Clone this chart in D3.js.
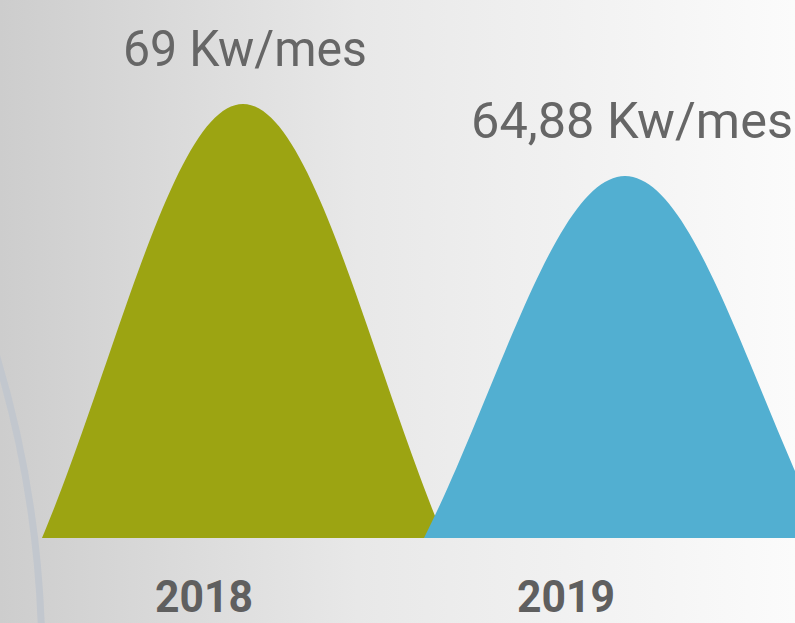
<!DOCTYPE html>
<html>
  <head>
    <meta charset="utf-8">
    <script src="https://d3js.org/d3.v7.min.js"></script>
    <style>
      body { margin: 0px; overflow: hidden; }
      .value-label {
        fill: #666666;
        font-family: Roboto, sans-serif;
        font-size: 50px;
      }
      .year-label {
        fill: #5f5f5f;
        font-family: Roboto, sans-serif;
        font-weight: 700;
        font-size: 45px;
      }
    </style>
  </head>
  <body>
    <svg width="795" height="623"></svg>
    <script>
      const years = ['2018', '2019'];
      const values = [69, 64.88];
      const valueLabels = ['69 Kw/mes', '64,88 Kw/mes'];
      const colors = ['#9ca412', '#52afd1'];

      const svg = d3.select('svg');
      const width = +svg.attr('width');
      const height = +svg.attr('height');
      const baseline = 538;
      const halfWidth = 201;

      // background gradient
      const defs = svg.append('defs');
      const grad = defs.append('linearGradient')
          .attr('id', 'bg')
          .attr('x1', '0%').attr('x2', '100%')
          .attr('y1', '0%').attr('y2', '0%');
      grad.append('stop').attr('offset', '0%').attr('stop-color', '#cdcdcd');
      grad.append('stop').attr('offset', '45%').attr('stop-color', '#e8e8e8');
      grad.append('stop').attr('offset', '100%').attr('stop-color', '#fbfbfb');
      svg.append('rect')
          .attr('width', width).attr('height', height)
          .attr('fill', 'url(#bg)');

      // faint decorative arc on the left
      svg.append('circle')
          .attr('cx', -1029).attr('cy', 665).attr('r', 1071)
          .attr('fill', 'none')
          .attr('stroke', '#c2c7ce')
          .attr('stroke-width', 7);

      const xScale = d3.scalePoint()
        .domain(years)
        .range([243, 625]);
      const yearX = d3.scalePoint()
        .domain(years)
        .range([204, 566]);
      const yScale = d3.scaleLinear()
        .domain([44.2, 69])
        .range([baseline, 104]);

      // bell shape: truncated gaussian on t in [-1, 1]
      const s = 0.68;
      const edge = Math.exp(-1 / (2 * s * s));
      const bell = t => (Math.exp(-t * t / (2 * s * s)) - edge) / (1 - edge);
      const ts = d3.range(-1, 1.0001, 0.02);

      const area = d3.area()
        .x(p => p.x)
        .y0(baseline)
        .y1(p => p.y);

      const data = years.map((y, i) => ({ year: y, value: values[i], label: valueLabels[i], color: colors[i] }));

      svg.selectAll('path.bell').data(data)
        .enter().append('path')
          .attr('class', 'bell')
          .attr('fill', d => d.color)
          .attr('d', d => {
            const cx = xScale(d.year);
            const top = yScale(d.value);
            return area(ts.map(t => ({ x: cx + t * halfWidth, y: baseline - bell(t) * (baseline - top) })));
          });

      svg.selectAll('text.value-label').data(data)
        .enter().append('text')
          .attr('class', 'value-label')
          .attr('x', (d, i) => xScale(d.year) + (i === 0 ? 2 : 7))
          .attr('y', d => yScale(d.value) - 38)
          .attr('text-anchor', 'middle')
          .attr('textLength', (d, i) => i === 0 ? 244 : 322)
          .attr('lengthAdjust', 'spacingAndGlyphs')
          .text(d => d.label);

      svg.selectAll('text.year-label').data(data)
        .enter().append('text')
          .attr('class', 'year-label')
          .attr('x', d => yearX(d.year))
          .attr('y', 612)
          .attr('text-anchor', 'middle')
          .attr('textLength', 98)
          .attr('lengthAdjust', 'spacingAndGlyphs')
          .text(d => d.year);
    </script>
  </body>
</html>
